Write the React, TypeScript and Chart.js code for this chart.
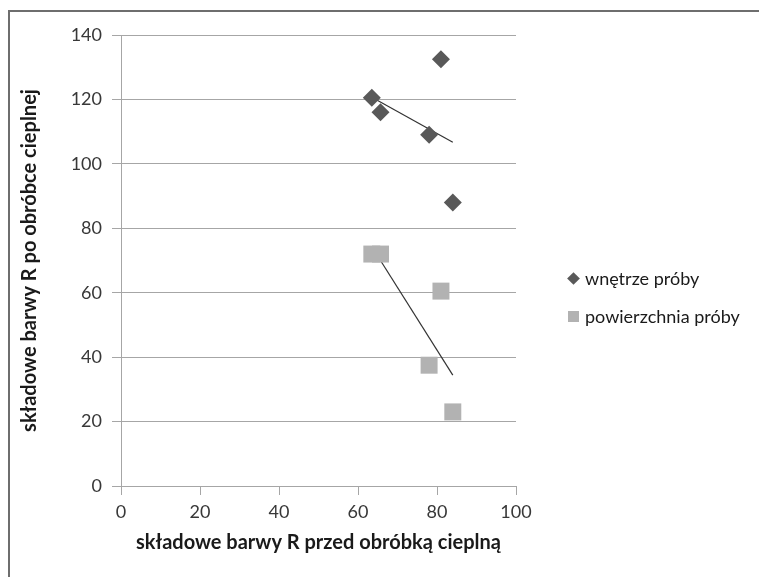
import React, { useEffect, useRef } from "react";
import { Chart, registerables } from "chart.js";

Chart.register(...registerables);

const interiorX = [63.5, 65.7, 81, 78, 84];
const interiorY = [120.5, 116, 132.5, 109, 88];
const surfaceX = [63.5, 65.7, 81, 78, 84];
const surfaceY = [72, 72, 60.5, 37.5, 23];
const xTicks = [0, 20, 40, 60, 80, 100];
const yTicks = [0, 20, 40, 60, 80, 100, 120, 140];
const seriesNames = ["wnętrze próby", "powierzchnia próby"];
const xTitle = "składowe barwy R przed obróbką cieplną";
const yTitle = "składowe barwy R po obróbce cieplnej";

function trend(xs: number[], ys: number[]) {
  const n = xs.length;
  const mx = xs.reduce((a, b) => a + b, 0) / n;
  const my = ys.reduce((a, b) => a + b, 0) / n;
  let sxy = 0, sxx = 0;
  for (let i = 0; i < n; i++) {
    sxy += (xs[i] - mx) * (ys[i] - my);
    sxx += (xs[i] - mx) * (xs[i] - mx);
  }
  const k = sxy / sxx;
  const b = my - k * mx;
  const x0 = Math.min(...xs), x1 = Math.max(...xs);
  return [{ x: x0, y: k * x0 + b }, { x: x1, y: k * x1 + b }];
}

const FONT = "Lato, 'Open Sans', sans-serif";

export default function App() {
  const ref = useRef<HTMLCanvasElement | null>(null);
  useEffect(() => {
    if (!ref.current) return;
    const chart = new Chart(ref.current, {
      type: "scatter",
      data: {
        datasets: [
          {
            label: seriesNames[0],
            data: interiorX.map((x, i) => ({ x, y: interiorY[i] })),
            pointStyle: "rectRot",
            pointRadius: 9,
            backgroundColor: "#595959",
            borderColor: "#595959",
            borderWidth: 0,
          },
          {
            label: seriesNames[1],
            data: surfaceX.map((x, i) => ({ x, y: surfaceY[i] })),
            pointStyle: "rect",
            pointRadius: 12,
            backgroundColor: "#b2b2b2",
            borderColor: "#b2b2b2",
            borderWidth: 0,
          },
          {
            label: "trend1",
            data: trend(interiorX, interiorY),
            showLine: true,
            pointRadius: 0,
            borderColor: "#333333",
            borderWidth: 1.2,
          },
          {
            label: "trend2",
            data: trend(surfaceX, surfaceY),
            showLine: true,
            pointRadius: 0,
            borderColor: "#333333",
            borderWidth: 1.2,
          },
        ],
      },
      options: {
        animation: false,
        responsive: true,
        maintainAspectRatio: false,
        layout: { padding: { left: 0, top: 27, right: 251, bottom: 0 } },
        plugins: { legend: { display: false }, tooltip: { enabled: false } },
        scales: {
          x: {
            type: "linear",
            min: 0,
            max: 100,
            afterBuildTicks: (s: any) => {
              s.ticks = xTicks.map((v) => ({ value: v }));
            },
            afterFit: (s: any) => {
              s.height = 91;
            },
            grid: { drawOnChartArea: false, drawTicks: true, tickLength: 9, color: "#a6a6a6" },
            border: { display: true, color: "#a6a6a6" },
            ticks: { color: "#383838", font: { family: FONT, size: 18 }, padding: 6 },
            title: {
              display: true,
              text: xTitle,
              color: "#1a1a1a",
              font: { family: FONT, size: 20, weight: "bold" },
              padding: { top: 0, bottom: 22 },
            },
          },
          y: {
            type: "linear",
            min: 0,
            max: 140,
            afterBuildTicks: (s: any) => {
              s.ticks = yTicks.map((v) => ({ value: v }));
            },
            afterFit: (s: any) => {
              s.width = 113;
            },
            grid: { drawTicks: true, tickLength: 9, color: "#a6a6a6" },
            border: { display: true, color: "#a6a6a6" },
            ticks: { color: "#383838", font: { family: FONT, size: 18 }, padding: 10 },
            title: {
              display: true,
              text: yTitle,
              color: "#1a1a1a",
              font: { family: FONT, size: 20, weight: "bold" },
              padding: { top: 10, bottom: 0 },
            },
          },
        },
      },
    });
    return () => chart.destroy();
  }, []);

  const legendText: React.CSSProperties = {
    position: "absolute",
    fontFamily: FONT,
    fontSize: 18,
    color: "#1a1a1a",
    whiteSpace: "nowrap",
    lineHeight: "22px",
  };

  return (
    <div style={{ position: "relative", width: 759, height: 569 }}>
      <canvas ref={ref} />
      <div style={{ position: "absolute", left: 0, top: 2, width: 759, height: 2, background: "#6e6e6e" }} />
      <div style={{ position: "absolute", left: 0, top: 2, width: 2, height: 567, background: "#6e6e6e" }} />
      <div style={{ position: "absolute", left: 561, top: 266, width: 9, height: 9, background: "#595959", transform: "rotate(45deg)" }} />
      <div style={{ ...legendText, left: 577, top: 259 }}>{seriesNames[0]}</div>
      <div style={{ position: "absolute", left: 560, top: 303, width: 11, height: 11, background: "#b2b2b2" }} />
      <div style={{ ...legendText, left: 577, top: 297 }}>{seriesNames[1]}</div>
    </div>
  );
}
